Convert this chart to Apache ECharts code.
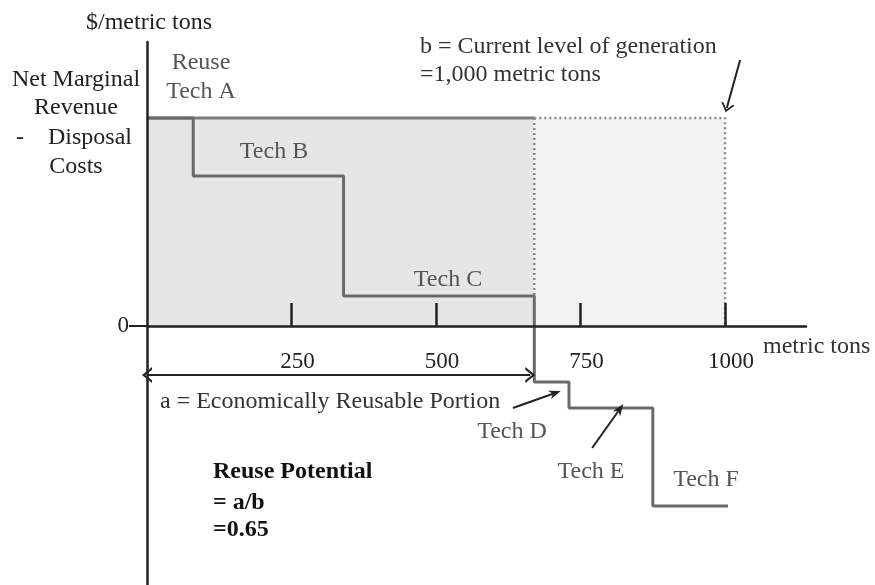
<!DOCTYPE html>
<html>
<head>
<meta charset="utf-8">
<script src="https://cdn.jsdelivr.net/npm/echarts@6/dist/echarts.min.js"></script>
<style>html,body{margin:0;padding:0;background:#fff}#c{width:875px;height:585px}</style>
</head>
<body>
<div id="c"></div>
<script>
// ---- data ----
var techNames  = ['Tech A', 'Tech B', 'Tech C', 'Tech D', 'Tech E', 'Tech F'];
var techStarts = [0, 80, 340, 670, 730, 875];
var techEnds   = [80, 340, 670, 730, 875, 1005];
var techValues = [104, 75, 15, -28, -41, -90];
var currentGeneration = 1000;       // b
var reusablePortion = 670;          // a (end of last positive technology)
var xTickValues = [250, 500, 750, 1000];
var yTickValues = [0];

var FONT = '"Liberation Serif", "Times New Roman", serif';

// step line data
var stepData = [];
for (var i = 0; i < techNames.length; i++) stepData.push([techStarts[i], techValues[i]]);
stepData.push([techEnds[techEnds.length - 1], techValues[techValues.length - 1]]);
var topVal = techValues[0];

var chevron = 'path://M5,0 L10,10 L8.3,10 L5,3.2 L1.7,10 L0,10 Z';
var pointer = 'path://M5,0 L10,10 L5,7 L0,10 Z';

var X_MIN = 0, X_MAX = 1140, Y_MIN = -129.5, Y_MAX = 142;
var G = { left: 147, right: 69, top: 42 };

var chart = echarts.init(document.getElementById('c'));
var option = {
  animation: false,
  backgroundColor: '#fff',
  grid: [
    { left: G.left, right: G.right, top: G.top, bottom: 0, containLabel: false, outerBoundsMode: 'none' },
    // upper half grid (y >= 0) used only to carry the visible x axis at y = 0
    { left: G.left, right: G.right, top: G.top, height: 284, containLabel: false, outerBoundsMode: 'none' }
  ],
  xAxis: [
    { type: 'value', gridIndex: 0, min: X_MIN, max: X_MAX, show: false },
    {
      type: 'value', gridIndex: 1, min: X_MIN, max: X_MAX, position: 'bottom', z: 20,
      axisLine: { onZero: false, lineStyle: { color: '#222', width: 2.5 } },
      axisTick: { show: true, inside: true, length: 23, customValues: xTickValues, lineStyle: { color: '#222', width: 2.5 } },
      splitLine: { show: false },
      axisLabel: {
        customValues: xTickValues,
        formatter: function (v) { return String(v); },
        margin: 24, padding: [0, 0, 0, 12], color: '#222', fontFamily: FONT, fontSize: 23
      }
    }
  ],
  yAxis: [
    {
      type: 'value', gridIndex: 0, min: Y_MIN, max: Y_MAX, z: 20,
      axisLine: { show: true, onZero: false, lineStyle: { color: '#222', width: 2.5 } },
      axisTick: { show: true, customValues: yTickValues, length: 18, lineStyle: { color: '#222', width: 2 } },
      axisLabel: { show: true, customValues: yTickValues, margin: 18, color: '#222', fontFamily: FONT, fontSize: 23 },
      splitLine: { show: false }
    },
    { type: 'value', gridIndex: 1, min: 0, max: Y_MAX, show: false }
  ],
  series: [
    { // shaded regions
      type: 'line', data: [], z: 1, silent: true,
      markArea: {
        silent: true,
        data: [
          [{ coord: [0, 0], itemStyle: { color: '#e6e6e6' } }, { coord: [reusablePortion, topVal] }],
          [{ coord: [reusablePortion, 0], itemStyle: { color: '#f2f2f2' } }, { coord: [currentGeneration, topVal] }]
        ]
      }
    },
    { // top solid boundary
      type: 'line', data: [[0, topVal], [reusablePortion, topVal]], symbol: 'none', z: 3,
      lineStyle: { color: '#7a7a7a', width: 3 }
    },
    { // dotted boundary of total generation
      type: 'line', data: [[reusablePortion, topVal], [currentGeneration, topVal], [currentGeneration, 0]],
      symbol: 'none', z: 3, lineStyle: { color: '#8a8a8a', width: 2.5, type: [2, 3] }
    },
    { // dotted vertical at a
      type: 'line', data: [[reusablePortion, topVal], [reusablePortion, techValues[2]]],
      symbol: 'none', z: 3, lineStyle: { color: '#8a8a8a', width: 2.5, type: [2, 3] }
    },
    { // step curve
      type: 'line', data: stepData, step: 'end', symbol: 'none', z: 4,
      lineStyle: { color: '#6a6a6a', width: 3 }
    },
    { // arrows
      type: 'line', data: [], z: 5,
      markLine: {
        silent: true, label: { show: false }, animation: false,
        lineStyle: { color: '#222', width: 2, type: 'solid' },
        data: [
          [{ coord: [0, -24.5], symbol: chevron, symbolSize: [16, 10] },
           { coord: [663, -24.5], symbol: chevron, symbolSize: [16, 10] }],
          [{ coord: [633, -41], symbol: 'none' }, { coord: [706, -33.5], symbol: pointer, symbolSize: [9, 12] }],
          [{ coord: [770, -61], symbol: 'none' }, { coord: [818, -41.5], symbol: pointer, symbolSize: [9, 12] }],
          [{ coord: [1026, 133], symbol: 'none' }, { coord: [1003, 109], symbol: chevron, symbolSize: [14, 9] }]
        ]
      }
    }
  ]
};

function txt(x, y, s, opts) {
  opts = opts || {};
  return {
    type: 'text', x: x, y: y, z: 10, silent: true,
    style: {
      text: s, fill: opts.color || '#333', font: (opts.bold ? 'bold ' : '') + (opts.size || 24) + 'px ' + FONT,
      textAlign: opts.align || 'center', textVerticalAlign: 'middle'
    }
  };
}
option.graphic = [
  txt(149, 23, '$/metric tons', { color: '#222' }),
  txt(76, 80, 'Net Marginal', { color: '#222' }),
  txt(76, 108, 'Revenue', { color: '#222' }),
  txt(74, 138, '-    Disposal', { color: '#222' }),
  txt(76, 167, 'Costs', { color: '#222' }),
  txt(201, 63, 'Reuse', { color: '#555' }),
  txt(201, 92, techNames[0], { color: '#555' }),
  txt(274, 152, techNames[1], { color: '#555' }),
  txt(448, 280, techNames[2], { color: '#555' }),
  txt(512, 432, techNames[3], { color: '#555' }),
  txt(591, 472, techNames[4], { color: '#555' }),
  txt(706, 480, techNames[5], { color: '#555' }),
  txt(420, 47, 'b = Current level of generation', { color: '#333', align: 'left' }),
  txt(420, 75, '=1,000 metric tons', { color: '#333', align: 'left' }),
  txt(763, 347, 'metric tons', { color: '#333', align: 'left' }),
  txt(160, 402, 'a = Economically Reusable Portion', { color: '#333', align: 'left' }),
  txt(213, 472, 'Reuse Potential', { color: '#111', align: 'left', bold: true }),
  txt(213, 503, '= a/b', { color: '#111', align: 'left', bold: true }),
  txt(213, 530, '=0.65', { color: '#111', align: 'left', bold: true })
];
chart.setOption(option);
</script>
</body>
</html>
